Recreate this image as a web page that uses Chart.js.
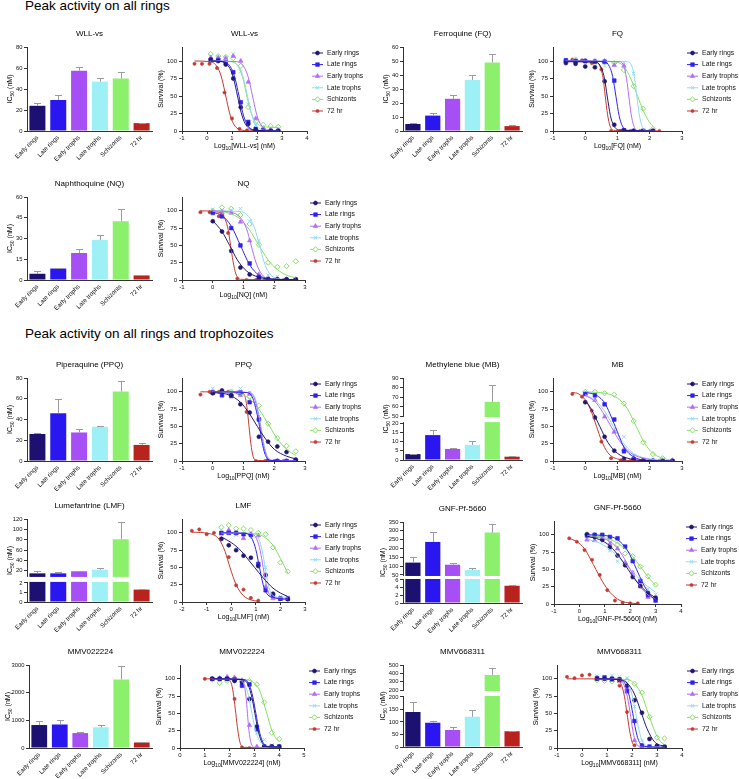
<!DOCTYPE html>
<html>
<head>
<meta charset="utf-8">
<script src="https://cdn.jsdelivr.net/npm/chart.js@4.4.1/dist/chart.umd.min.js"></script>
<style>
  body { margin: 0; background: #fff; width: 739px; height: 779px; position: relative; overflow: hidden;
         font-family: "Liberation Sans", Arial, sans-serif; }
  .hd { position: absolute; left: 25px; font-size: 13.5px; color: #000; white-space: nowrap; }
</style>
</head>
<body>
<div class="hd" style="top:-2px">Peak activity on all rings</div>
<div class="hd" style="top:326px">Peak activity on all rings and trophozoites</div>
<script>
var FONT = '"Liberation Sans", Arial, sans-serif';
Chart.defaults.font.family = FONT;
Chart.defaults.color = '#111';

var stages = ['Early rings', 'Late rings', 'Early trophs', 'Late trophs', 'Schizonts', '72 hr'];

// ---- IC50 bars (value, + error) ----
var wllIC = [24, 29.5, 57.5, 47, 50, 7.5];
var wllErr = [2.5, 4.5, 3.5, 3.5, 6, 0.5];
var fqIC = [5, 11, 23, 36.5, 49, 3.5];
var fqErr = [0.5, 2, 3, 3.5, 6, 0.5];
var nqIC = [4.5, 8.3, 19.5, 29, 42.5, 3.3];
var nqErr = [2, 0.4, 3, 3.5, 8.5, 0.3];
var ppqIC = [26, 46, 27.5, 33, 67, 15.5];
var ppqErr = [1, 13.5, 3, 1, 10, 2];
var mbIC = [3.2, 13.5, 6, 8.2, 65, 1.8];
var mbErr = [0.3, 2.8, 0.4, 2, 18, 0.2];
var lmfIC = [15, 15, 19, 22, 81, 1.3];
var lmfErr = [4, 3.5, 1.5, 2.5, 33, 0.05];
var gnfIC = [120, 237, 108, 78, 290, 4.5];
var gnfErr = [30, 58, 7, 12, 50, 0.3];
var m22IC = [830, 850, 540, 750, 2480, 200];
var m22Err = [140, 150, 50, 70, 490, 30];
var m68IC = [140, 97, 68, 121, 380, 63];
var m68Err = [40, 6, 12, 26, 80, 1];

// broken axis tick labels
var mbLowTicks = [0, 5, 10, 15, 20], mbHighTicks = [50, 60, 70, 80, 90];
var lmfLowTicks = [0, 1, 2], lmfHighTicks = [20, 40, 60, 80, 100, 120];
var gnfLowTicks = [0, 2, 4, 6], gnfHighTicks = [50, 100, 150, 200, 250, 300, 350];
var m68LowTicks = [0, 50, 100, 150, 200], m68HighTicks = [200, 300, 400, 500];

// ---- dose response: log10 doses, survival % per stage, fitted curve points ----
var wllDose = [0.15, 0.45, 0.75, 1.05, 1.35, 1.65, 1.95, 2.25, 2.55, 2.85];
var wllDose72 = [-0.5, -0.2, 0.1, 0.4, 0.7, 1.0, 1.3, 1.6, 1.9];
var wllSurv = [
  [102, 100, 95, 75, 34, 10, 2, 0, 0, 0],
  [101, 101, 98, 84, 41, 13, 3, 1, 0, 0],
  [105, 105, 104, 107, 100, 70, 18, 4, 2, 1],
  [107, 104, 104, 110, 85, 38, 8, 3, 2, 2],
  [110, 107, 106, 104, 93, 34, 13, 9, 7, 6],
  [96, 96, 96, 90, 55, 18, 3, 1, 0]
];
var wllFit = [
  [[0.15,100],[0.6,99],[0.92,89],[1.07,74],[1.22,50],[1.37,26],[1.52,11],[1.82,1.5],[2.85,0]],
  [[0.15,100],[0.68,99],[0.98,89],[1.13,74],[1.28,50],[1.43,26],[1.58,11],[1.88,1.5],[2.85,0]],
  [[0.15,100],[1.22,99],[1.52,89],[1.67,74],[1.82,50],[1.97,26],[2.12,11],[2.42,1.5],[2.85,0]],
  [[0.15,100],[1.02,99],[1.32,89],[1.47,74],[1.62,50],[1.77,26],[1.92,11],[2.22,1.5],[2.85,0]],
  [[0.15,100],[0.98,99],[1.28,90],[1.43,76],[1.58,52],[1.73,30],[1.88,16],[2.18,7],[2.85,5]],
  [[-0.5,100],[0.15,99],[0.45,89],[0.6,74],[0.75,50],[0.9,26],[1.05,11],[1.35,1.5],[1.9,0]]
];

var fqDose = [-0.6, -0.3, 0, 0.3, 0.6, 0.9, 1.2, 1.5, 1.8, 2.1];
var fqDose72 = [-0.4, -0.1, 0.2, 0.5, 0.8, 1.1, 1.4, 1.7, 2.0, 2.3];
var fqSurv = [
  [97, 96, 92, 91, 71, 9, 1, 0, 0, 0],
  [101, 100, 100, 99, 99, 72, 1, 0, 0, 0],
  [100, 100, 100, 100, 100, 94, 93, 0, 0, 0],
  [100, 100, 98, 97, 93, 95, 98, 82, 1, 0],
  [100, 102, 100, 99, 98, 97, 87, 64, 32, 3],
  [102, 101, 97, 88, 0, 0, 0, 0, 0, 0]
];
var fqFit = [
  [[-0.6,99],[0.35,98],[0.5,90],[0.6,74],[0.68,50],[0.78,22],[0.88,8],[1.05,1.5],[2.1,0]],
  [[-0.6,100],[0.6,99],[0.75,92],[0.85,78],[0.95,50],[1.05,22],[1.15,7],[1.3,1],[2.1,0]],
  [[-0.6,100],[1.05,99],[1.2,92],[1.28,75],[1.35,50],[1.42,25],[1.5,8],[1.6,1],[2.1,0]],
  [[-0.6,100],[1.3,99],[1.45,92],[1.53,75],[1.6,50],[1.67,25],[1.75,8],[1.85,1],[2.1,0]],
  [[-0.6,100],[0.9,99],[1.2,92],[1.4,76],[1.62,50],[1.8,29],[2.0,12],[2.1,7]],
  [[-0.4,100],[0.3,99],[0.45,93],[0.55,76],[0.62,50],[0.69,24],[0.77,7],[0.88,1],[2.3,0]]
];

var nqDose = [0, 0.3, 0.6, 0.9, 1.2, 1.5, 1.8, 2.1, 2.4, 2.7];
var nqDose72 = [-0.4, -0.1, 0.2, 0.5, 0.8, 1.1, 1.4, 1.7, 2.0, 2.3];
var nqSurv = [
  [85, 70, 42, 18, 8, 2, 1, 1, 1, 1],
  [97, 92, 75, 50, 24, 4, 1, 0, 0, 0],
  [98, 98, 97, 84, 57, 8, 2, 1, 1, 1],
  [102, 100, 101, 103, 85, 57, 7, 5, 2, 1],
  [100, 105, 103, 94, 81, 51, 25, 19, 20, 27],
  [98, 98, 92, 68, 2, 0, 0, 0, 0, 0]
];
var nqFit = [
  [[0,86],[0.3,70],[0.55,50],[0.8,29],[1.1,13],[1.5,4],[2.0,1],[2.7,0.5]],
  [[0,98],[0.3,93],[0.6,78],[0.9,50],[1.2,22],[1.5,7],[1.8,2],[2.7,0]],
  [[0,100],[0.6,98],[0.9,90],[1.1,74],[1.25,50],[1.4,26],[1.6,8],[1.9,1],[2.7,0]],
  [[0,100],[0.9,99],[1.2,90],[1.37,74],[1.52,50],[1.67,26],[1.82,11],[2.1,2],[2.7,0]],
  [[0,100],[0.5,97],[0.9,88],[1.2,72],[1.5,50],[1.8,29],[2.1,15],[2.4,7],[2.7,3]],
  [[-0.4,100],[0.2,98],[0.4,88],[0.5,73],[0.58,50],[0.66,27],[0.75,9],[0.9,1],[2.3,0]]
];

var ppqDose = [0, 0.3, 0.6, 0.9, 1.2, 1.5, 1.8, 2.1, 2.4, 2.7];
var ppqDose72 = [-0.4, -0.1, 0.2, 0.5, 0.8, 1.1, 1.4, 1.7, 2.0, 2.3];
var ppqSurv = [
  [98, 102, 95, 82, 70, 35, 28, 21, 13, 2],
  [99, 95, 94, 99, 85, 60, 0, 0, 0, 0],
  [99, 100, 97, 95, 97, 62, 0, 0, 0, 0],
  [105, 100, 101, 105, 99, 65, 0, 0, 0, 0],
  [100, 100, 100, 97, 93, 80, 54, 33, 22, 14],
  [96, 100, 100, 100, 99, 71, 0, 0, 0, 0]
];
var ppqFit = [
  [[0,99],[0.5,96],[0.9,85],[1.2,68],[1.45,50],[1.7,33],[2.0,17],[2.4,7],[2.7,3]],
  [[0,100],[1.1,99],[1.3,91],[1.42,72],[1.52,50],[1.6,28],[1.7,10],[1.85,1],[2.7,0]],
  [[0,100],[1.15,99],[1.35,91],[1.46,72],[1.55,50],[1.63,28],[1.73,10],[1.88,1],[2.7,0]],
  [[0,100],[1.2,99],[1.38,91],[1.48,72],[1.57,50],[1.65,28],[1.75,10],[1.9,1],[2.7,0]],
  [[0,100],[0.8,98],[1.2,90],[1.5,75],[1.85,50],[2.1,32],[2.4,17],[2.7,8]],
  [[-0.4,100],[0.9,99.5],[1.05,93],[1.12,75],[1.18,50],[1.24,25],[1.31,7],[1.4,1],[2.3,0]]
];

var mbDose = [0, 0.3, 0.6, 0.9, 1.2, 1.5, 1.8, 2.1, 2.4, 2.7];
var mbDose72 = [-0.4, -0.1, 0.2, 0.5, 0.8, 1.1, 1.4, 1.7, 2.0, 2.3];
var mbSurv = [
  [85, 63, 35, 15, 3, 1, 1, 0, 0, 0],
  [97, 95, 82, 60, 14, 2, 0, 0, 0, 0],
  [97, 88, 64, 42, 17, 5, 2, 1, 1, 0],
  [98, 90, 65, 45, 35, 8, 3, 1, 1, 0],
  [100, 100, 98, 96, 83, 58, 27, 10, 4, 1],
  [97, 93, 73, 28, 4, 1, 0, 0, 0, 0]
];
var mbFit = [
  [[0,88],[0.2,74],[0.45,50],[0.7,27],[1.0,11],[1.4,3],[2.0,0.5],[2.7,0]],
  [[0,99],[0.3,96],[0.6,84],[0.93,50],[1.2,20],[1.5,6],[1.9,1],[2.7,0]],
  [[0,95],[0.3,86],[0.55,70],[0.8,50],[1.05,30],[1.4,12],[1.9,3],[2.7,0]],
  [[0,96],[0.3,88],[0.6,72],[0.87,50],[1.15,28],[1.5,11],[2.0,3],[2.7,0]],
  [[0,100],[0.6,98],[1.0,91],[1.3,76],[1.58,50],[1.85,25],[2.1,11],[2.4,4],[2.7,1]],
  [[-0.4,99],[-0.2,97],[0.05,85],[0.2,70],[0.35,50],[0.5,30],[0.7,12],[1.0,3],[1.5,0.5],[2.3,0]]
];

var lmfDose = [-0.4, -0.1, 0.2, 0.5, 0.8, 1.1, 1.4, 1.7, 2.0, 2.3];
var lmfDose72 = [-1.6, -1.3, -1.0, -0.7, -0.4, -0.1, 0.2, 0.5, 0.8, 1.1];
var lmfSurv = [
  [91, 82, 75, 67, 64, 52, 39, 12, 5, 4],
  [100, 100, 100, 98, 97, 55, 17, 9, 5, 5],
  [99, 104, 99, 92, 98, 96, 22, 5, 4, 4],
  [98, 100, 97, 98, 93, 97, 50, 8, 8, 7],
  [108, 111, 106, 106, 104, 100, 98, 79, 57, 44],
  [103, 105, 98, 100, 92, 65, 24, 18, 6, 2]
];
var lmfFit = [
  [[-0.4,94],[0,86],[0.4,74],[0.7,61],[0.95,50],[1.3,35],[1.7,20],[2.0,13],[2.3,8]],
  [[-0.4,100],[0.6,99],[0.85,91],[1.0,76],[1.15,50],[1.3,25],[1.45,12],[1.8,6],[2.3,4]],
  [[-0.4,100],[0.8,99],[1.05,90],[1.18,74],[1.3,50],[1.42,26],[1.55,11],[1.8,5],[2.3,4]],
  [[-0.4,100],[0.9,99],[1.13,90],[1.26,74],[1.38,50],[1.5,26],[1.63,12],[1.9,7],[2.3,7]],
  [[-0.4,100],[0.8,99],[1.3,95],[1.7,82],[2.0,63],[2.3,42]],
  [[-1.6,101],[-0.9,99],[-0.5,91],[-0.25,73],[-0.05,50],[0.2,25],[0.5,9],[0.8,3],[1.1,1]]
];

var gnfDose = [0.3, 0.6, 0.9, 1.2, 1.5, 1.8, 2.1, 2.4, 2.7, 3.0];
var gnfDose72 = [-0.4, -0.1, 0.2, 0.5, 0.8, 1.1, 1.4, 1.7, 2.0, 2.3];
var gnfSurv = [
  [101, 97, 93, 82, 70, 56, 39, 26, 16, 9],
  [99, 100, 100, 97, 95, 83, 62, 33, 13, 5],
  [93, 92, 94, 87, 80, 60, 45, 25, 10, 8],
  [92, 94, 90, 77, 62, 58, 46, 35, 22, 14],
  [100, 100, 99, 92, 86, 73, 69, 54, 40, 28],
  [95, 90, 78, 64, 42, 20, 5, 2, 1, 1]
];
var gnfFit = [
  [[0.3,98],[0.8,93],[1.2,84],[1.6,67],[1.92,50],[2.2,35],[2.6,19],[3.0,9]],
  [[0.3,100],[1.0,99],[1.5,93],[1.9,77],[2.25,50],[2.5,30],[2.8,12],[3.0,6]],
  [[0.3,97],[0.9,95],[1.3,88],[1.7,70],[2.0,50],[2.3,30],[2.7,13],[3.0,7]],
  [[0.3,94],[0.8,88],[1.3,76],[1.7,62],[2.0,50],[2.4,35],[2.7,25],[3.0,17]],
  [[0.3,99],[1.0,96],[1.5,88],[2.0,73],[2.48,50],[2.8,35],[3.0,27]],
  [[-0.4,95],[-0.1,90],[0.2,80],[0.45,64],[0.65,50],[0.9,33],[1.2,17],[1.6,5],[2.0,1.5],[2.3,0.5]]
];

var m22Dose = [1.3, 1.6, 1.9, 2.2, 2.5, 2.8, 3.1, 3.4, 3.7, 4.0];
var m22Dose72 = [1.0, 1.3, 1.6, 1.9, 2.2, 2.5, 2.8, 3.1, 3.4, 3.7];
var m22Surv = [
  [100, 100, 100, 97, 95, 71, 31, 2, 2, 2],
  [100, 100, 100, 99, 90, 92, 27, 2, 2, 2],
  [100, 101, 103, 102, 98, 33, 2, 1, 1, 1],
  [99, 98, 99, 100, 97, 68, 22, 12, 4, 2],
  [100, 94, 97, 98, 97, 97, 92, 66, 22, 13],
  [100, 100, 100, 99, 71, 1, 0, 0, 0, 0]
];
var m22Fit = [
  [[1.3,100],[2.5,99],[2.75,91],[2.9,73],[3.02,50],[3.14,27],[3.28,10],[3.5,2],[4.0,1.5]],
  [[1.3,100],[2.55,99],[2.8,91],[2.94,73],[3.06,50],[3.18,27],[3.32,10],[3.55,2],[4.0,1.5]],
  [[1.3,100],[2.4,99.5],[2.58,92],[2.66,75],[2.72,50],[2.78,25],[2.86,8],[3.0,1],[4.0,0.5]],
  [[1.3,100],[2.3,99],[2.6,92],[2.76,76],[2.9,50],[3.05,25],[3.2,11],[3.5,3],[4.0,2]],
  [[1.3,100],[2.6,99],[2.95,95],[3.2,84],[3.5,50],[3.7,26],[3.85,15],[4.0,9]],
  [[1.0,100],[1.9,99.5],[2.08,92],[2.17,74],[2.25,50],[2.33,26],[2.42,8],[2.55,1],[3.7,0]]
];

var m68Dose = [0.6, 0.9, 1.2, 1.5, 1.8, 2.1, 2.4, 2.7, 3.0, 3.3];
var m68Dose72 = [-0.6, -0.3, 0, 0.3, 0.6, 0.9, 1.2, 1.5, 1.8, 2.1];
var m68Surv = [
  [100, 100, 100, 99, 90, 69, 51, 13, 3, 2],
  [101, 102, 100, 99, 82, 39, 4, 2, 2, 1],
  [100, 100, 98, 97, 86, 11, 2, 1, 1, 1],
  [104, 103, 105, 103, 101, 60, 11, 3, 2, 2],
  [98, 97, 96, 96, 98, 93, 80, 45, 15, 14],
  [103, 101, 105, 106, 100, 100, 98, 90, 52, 4]
];
var m68Fit = [
  [[0.6,100],[1.5,99],[1.8,94],[2.1,78],[2.38,50],[2.6,28],[2.9,9],[3.3,2]],
  [[0.6,100],[1.5,99],[1.75,91],[1.9,74],[2.03,50],[2.15,26],[2.3,8],[2.6,2],[3.3,1]],
  [[0.6,100],[1.45,99.5],[1.68,91],[1.82,73],[1.93,50],[2.03,26],[2.15,8],[2.4,1.5],[3.3,1]],
  [[0.6,100],[1.6,99],[1.87,91],[2.02,74],[2.15,50],[2.28,26],[2.42,9],[2.7,2],[3.3,1.5]],
  [[0.6,100],[1.8,99],[2.1,93],[2.4,76],[2.65,50],[2.9,25],[3.1,11],[3.3,5]],
  [[-0.6,100],[1.35,99.5],[1.58,91],[1.7,74],[1.8,50],[1.9,26],[2.0,9],[2.1,3]]
];

// ---- styles ----
var barColors = ['#1c1170', '#2a17f0', '#a64ff5', '#9df1f6', '#8df06c', '#b8231e'];
var lineColors = ['#20186e', '#2e22ee', '#b26cf6', '#92d8f2', '#86df66', '#c23a33'];
var pStyles = ['circle', 'rect', 'triangle', 'crossRot', 'rectRot', 'circle'];
var pRadius = [2.0, 2.6, 2.6, 2.5, 2.6, 1.6];

// ---- broken y scale (piecewise linear) ----
var BRK = {};
class BrokenScale extends Chart.LinearScale {
  decFor(v, upper) {
    var b = BRK[this.chart.canvas.id];
    if (!upper && v <= b.low[1]) return (v - b.low[0]) / (b.low[1] - b.low[0]) * b.lowFrac;
    if (v >= b.high[0]) return b.lowFrac + b.gapFrac + (v - b.high[0]) / (b.high[1] - b.high[0]) * (1 - b.lowFrac - b.gapFrac);
    return b.lowFrac + b.gapFrac * (v - b.low[1]) / (b.high[0] - b.low[1]);
  }
  getPixelForValue(v) {
    if (v === null || v === undefined) return NaN;
    return this.getPixelForDecimal(this.decFor(v, false));
  }
  getPixelForTick(i) {
    var t = this.ticks[i];
    return this.getPixelForDecimal(this.decFor(t.value, !!t.upper));
  }
}
BrokenScale.id = 'broken';
BrokenScale.defaults = Chart.LinearScale.defaults;
Chart.register(BrokenScale);

function mkCanvas(id, x, y, w, h) {
  var c = document.createElement('canvas');
  c.id = id; c.width = w; c.height = h;
  c.style.cssText = 'position:absolute;left:' + x + 'px;top:' + y + 'px;width:' + w + 'px;height:' + h + 'px';
  document.body.appendChild(c);
  return c;
}

// text with optional subscript parts: [[text, isSub], ...]
function drawParts(ctx, parts, cx, cy, size) {
  var w = 0;
  parts.forEach(function(p) { ctx.font = (p[1] ? size * 0.72 : size) + 'px ' + FONT; w += ctx.measureText(p[0]).width; });
  var x = cx - w / 2;
  parts.forEach(function(p) {
    ctx.font = (p[1] ? size * 0.72 : size) + 'px ' + FONT;
    ctx.fillText(p[0], x, cy + (p[1] ? size * 0.32 : 0));
    x += ctx.measureText(p[0]).width;
  });
}

function titlePlugin(title, yParts, yOff, xParts) {
  return {
    id: 'titles',
    afterDraw: function(chart) {
      var ctx = chart.ctx, a = chart.chartArea;
      ctx.save();
      ctx.fillStyle = '#000'; ctx.textBaseline = 'middle'; ctx.textAlign = 'left';
      drawParts(ctx, [[title, false]], (a.left + a.right) / 2, a.top - 13, 8);
      ctx.save();
      ctx.translate(a.left - yOff, (a.top + a.bottom) / 2);
      ctx.rotate(-Math.PI / 2);
      drawParts(ctx, yParts, 0, 0, 7);
      ctx.restore();
      if (xParts) drawParts(ctx, xParts, (a.left + a.right) / 2, a.bottom + 15, 7);
      ctx.restore();
    }
  };
}

function barChart(id, colX, p, title, vals, errs, yMax, step, brk, yOff) {
  var yW = 20, xH = 30;
  var y0 = p.t - 22;
  var cv = mkCanvas(id, colX, y0, p.r + 8 - colX, p.b + xH - y0);
  if (brk) BRK[id] = brk;
  var yScale = {
    type: brk ? 'broken' : 'linear', min: 0, max: yMax,
    grid: { drawOnChartArea: false, tickLength: 3, color: '#333' },
    border: { color: '#333' },
    ticks: { stepSize: step, font: { size: 5.8 }, color: '#111', padding: 1.5, autoSkip: false,
             callback: function(v) { return String(v); } },
    afterFit: function(s) { s.width = yW; }
  };
  if (brk) {
    yScale.afterBuildTicks = function(s) {
      s.ticks = brk.lowTicks.map(function(v) { return { value: v }; })
        .concat(brk.highTicks.map(function(v) { return { value: v, upper: true }; }));
    };
  }
  var errPlugin = {
    id: 'err',
    afterDatasetsDraw: function(chart) {
      var ctx = chart.ctx, ys = chart.scales.y, meta = chart.getDatasetMeta(0);
      ctx.save();
      ctx.strokeStyle = '#9a9aa2'; ctx.lineWidth = 1;
      meta.data.forEach(function(bar, i) {
        var top = Math.round(ys.getPixelForValue(vals[i] + errs[i])) + 0.5;
        var x = Math.round(bar.x) + 0.5;
        ctx.beginPath();
        ctx.moveTo(x, bar.y); ctx.lineTo(x, top);
        ctx.moveTo(x - 3.5, top); ctx.lineTo(x + 3.5, top);
        ctx.stroke();
      });
      ctx.restore();
    }
  };
  var gapPlugin = {
    id: 'gap',
    afterDraw: function(chart) {
      if (!brk) return;
      var ys = chart.scales.y, a = chart.chartArea, ctx = chart.ctx;
      var yTop = ys.getPixelForDecimal(brk.lowFrac + brk.gapFrac), yBot = ys.getPixelForDecimal(brk.lowFrac);
      ctx.save();
      ctx.fillStyle = '#fff';
      ctx.fillRect(a.left - 1.5, yTop + 1, a.right - a.left + 3, yBot - yTop - 2);
      ctx.restore();
    }
  };
  return new Chart(cv, {
    type: 'bar',
    data: { labels: stages, datasets: [{ data: vals, backgroundColor: barColors, borderWidth: 0,
            barPercentage: 0.8, categoryPercentage: 0.96 }] },
    options: {
      responsive: false, animation: false, events: [],
      layout: { padding: { left: p.l - colX - yW, top: p.t - y0, right: 8, bottom: 0 } },
      plugins: { legend: { display: false }, tooltip: { enabled: false } },
      scales: {
        x: { grid: { display: false, drawTicks: false, tickLength: 0 }, border: { color: '#333' },
             ticks: { font: { size: 6.3 }, color: '#111', minRotation: 45, maxRotation: 45, autoSkip: false, padding: 3 },
             afterFit: function(s) { s.height = xH; } },
        y: yScale
      }
    },
    plugins: [titlePlugin(title, [['IC', false], ['50', true], [' (nM)', false]], yOff || 17, null), errPlugin, gapPlugin]
  });
}

function doseChart(id, colX, p, title, drug, xMin, xMax, doses, doses72, surv, fits) {
  var yW = 15, xH = 22;
  var x0 = p.l - 32, y0 = p.t - 22;
  var right = Math.min(colX + 370, 739);
  var cv = mkCanvas(id, x0, y0, right - x0, p.b + xH - y0);
  var ds = [];
  for (var s = 0; s < 6; s++) {
    ds.push({
      data: fits[s].map(function(q) { return { x: q[0], y: q[1] }; }),
      showLine: true, pointRadius: 0, borderWidth: 1, borderColor: lineColors[s],
      cubicInterpolationMode: 'monotone', fill: false
    });
  }
  for (var s2 = 0; s2 < 6; s2++) {
    var xs = s2 === 5 ? doses72 : doses;
    ds.push({
      data: surv[s2].map(function(v, i) { return { x: xs[i], y: v }; }),
      showLine: false, pointStyle: pStyles[s2], pointRadius: pRadius[s2],
      backgroundColor: s2 === 4 ? '#fff' : lineColors[s2], borderColor: lineColors[s2],
      borderWidth: (s2 === 3 || s2 === 4) ? 1 : 0.6
    });
  }
  var legendPlugin = {
    id: 'stageLegend',
    afterDraw: function(chart) {
      var ctx = chart.ctx, a = chart.chartArea;
      ctx.save();
      stages.forEach(function(lab, i) {
        var y = a.top + 6 + i * 11.6, lx = a.right + 5;
        ctx.strokeStyle = lineColors[i]; ctx.lineWidth = 1;
        ctx.beginPath(); ctx.moveTo(lx, y); ctx.lineTo(lx + 11, y); ctx.stroke();
        ctx.fillStyle = i === 4 ? '#fff' : lineColors[i];
        ctx.lineWidth = (i === 3 || i === 4) ? 1 : 0.6;
        Chart.helpers.drawPoint(ctx, { pointStyle: pStyles[i], radius: pRadius[i], rotation: 0, borderWidth: ctx.lineWidth }, lx + 5.5, y);
        ctx.fillStyle = '#111'; ctx.font = '6.8px ' + FONT; ctx.textBaseline = 'middle'; ctx.textAlign = 'left';
        ctx.fillText(lab, lx + 15, y);
      });
      ctx.restore();
    }
  };
  return new Chart(cv, {
    type: 'scatter',
    data: { datasets: ds },
    options: {
      responsive: false, animation: false, events: [],
      layout: { padding: { left: 32 - yW, top: 22, right: right - p.r, bottom: 0 } },
      plugins: { legend: { display: false }, tooltip: { enabled: false } },
      scales: {
        x: { type: 'linear', min: xMin, max: xMax,
             grid: { drawOnChartArea: false, tickLength: 3, color: '#333' }, border: { color: '#333' },
             ticks: { stepSize: 1, font: { size: 6 }, color: '#111', padding: 1,
                      callback: function(v) { return String(v); } },
             afterFit: function(s) { s.height = xH; } },
        y: { type: 'linear', min: 0, max: 120,
             grid: { drawOnChartArea: false, tickLength: 3, color: '#333' }, border: { color: '#333' },
             ticks: { stepSize: 25, font: { size: 6 }, color: '#111', padding: 2,
                      callback: function(v) { return String(v); } },
             afterBuildTicks: function(sc) { sc.ticks = sc.ticks.filter(function(t) { return t.value <= 100; }); },
             afterFit: function(s) { s.width = yW; } }
      }
    },
    plugins: [titlePlugin(title, [['Survival (%)', false]], 21,
              [['Log', false], ['10', true], ['[' + drug + '] (nM)', false]]), legendPlugin]
  });
}

// ---- row 1 ----
barChart('wllBar', 0, { l: 27, r: 152, t: 47, b: 131 }, 'WLL-vs', wllIC, wllErr, 80, 20);
doseChart('wllDose', 0, { l: 182, r: 307, t: 47, b: 131 }, 'WLL-vs', 'WLL-vs', -1, 4, wllDose, wllDose72, wllSurv, wllFit);
barChart('fqBar', 370, { l: 403, r: 522, t: 47, b: 131 }, 'Ferroquine (FQ)', fqIC, fqErr, 60, 10);
doseChart('fqDose', 370, { l: 553, r: 682, t: 47, b: 131 }, 'FQ', 'FQ', -1, 3, fqDose, fqDose72, fqSurv, fqFit);
// ---- row 2 ----
barChart('nqBar', 0, { l: 27, r: 152, t: 197, b: 280 }, 'Naphthoquine (NQ)', nqIC, nqErr, 60, 15);
doseChart('nqDose', 0, { l: 182, r: 305, t: 197, b: 280 }, 'NQ', 'NQ', -1, 3, nqDose, nqDose72, nqSurv, nqFit);
// ---- row 3 ----
barChart('ppqBar', 0, { l: 27, r: 152, t: 378, b: 461 }, 'Piperaquine (PPQ)', ppqIC, ppqErr, 80, 20);
doseChart('ppqDose', 0, { l: 182, r: 305, t: 378, b: 461 }, 'PPQ', 'PPQ', -1, 3, ppqDose, ppqDose72, ppqSurv, ppqFit);
barChart('mbBar', 370, { l: 403, r: 522, t: 378, b: 460 }, 'Methylene blue (MB)', mbIC, mbErr, 90, 10,
  { low: [0, 20], high: [50, 90], lowFrac: 0.45, gapFrac: 0.085, lowTicks: mbLowTicks, highTicks: mbHighTicks });
doseChart('mbDose', 370, { l: 553, r: 682, t: 378, b: 461 }, 'MB', 'MB', -1, 3, mbDose, mbDose72, mbSurv, mbFit);
// ---- row 4 ----
barChart('lmfBar', 0, { l: 27, r: 152, t: 519, b: 602 }, 'Lumefantrine (LMF)', lmfIC, lmfErr, 120, 20,
  { low: [0, 2], high: [10, 120], lowFrac: 0.23, gapFrac: 0.084, lowTicks: lmfLowTicks, highTicks: lmfHighTicks });
doseChart('lmfDose', 0, { l: 182, r: 305, t: 519, b: 602 }, 'LMF', 'LMF', -2, 3, lmfDose, lmfDose72, lmfSurv, lmfFit);
barChart('gnfBar', 370, { l: 403, r: 522, t: 522, b: 603 }, 'GNF-Pf-5660', gnfIC, gnfErr, 350, 50,
  { low: [0, 6], high: [50, 350], lowFrac: 0.284, gapFrac: 0.062, lowTicks: gnfLowTicks, highTicks: gnfHighTicks }, 19.5);
doseChart('gnfDose', 370, { l: 554, r: 681, t: 521, b: 604 }, 'GNF-Pf-5660', 'GNF-Pf-5660', -1, 4, gnfDose, gnfDose72, gnfSurv, gnfFit);
// ---- row 5 ----
barChart('m22Bar', 0, { l: 29, r: 152, t: 665, b: 748 }, 'MMV022224', m22IC, m22Err, 3000, 1000, null, 21);
doseChart('m22Dose', 0, { l: 180, r: 304, t: 665, b: 748 }, 'MMV022224', 'MMV022224', 0, 5, m22Dose, m22Dose72, m22Surv, m22Fit);
barChart('m68Bar', 370, { l: 403, r: 522, t: 665, b: 747 }, 'MMV668311', m68IC, m68Err, 500, 50,
  { low: [0, 200], high: [200, 500], lowFrac: 0.61, gapFrac: 0.085, lowTicks: m68LowTicks, highTicks: m68HighTicks }, 19.5);
doseChart('m68Dose', 370, { l: 557, r: 682, t: 665, b: 748 }, 'MMV668311', 'MMV668311', -1, 4, m68Dose, m68Dose72, m68Surv, m68Fit);
</script>
</body>
</html>
